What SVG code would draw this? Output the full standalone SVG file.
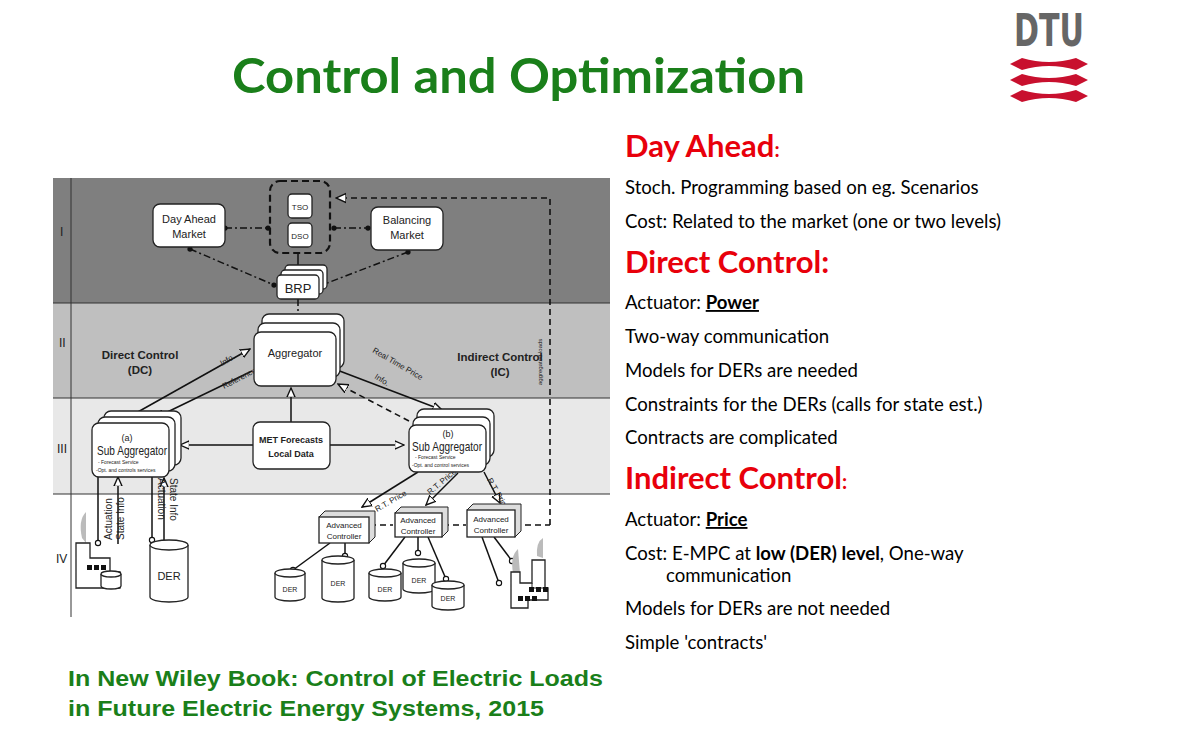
<svg xmlns="http://www.w3.org/2000/svg" width="1200" height="737" viewBox="0 0 1200 737">
<style>
.d{font-family:"Liberation Sans",Arial,sans-serif;fill:#222}
.b{fill:#fff;stroke:#222;stroke-width:1.3}
.ln{stroke:#111;stroke-width:1.5;fill:none}
.dd{stroke:#111;stroke-width:1.5;fill:none;stroke-dasharray:7 3 2 3}
.da{stroke:#111;stroke-width:1.6;fill:none;stroke-dasharray:6 4}
.r{font-family:Lato,"Open Sans",sans-serif;fill:#000;font-size:18.6px}
.h{font-family:Lato,"Open Sans",sans-serif;fill:#e8000b;font-weight:bold;font-size:31px}
</style>
<defs>
<marker id="a" viewBox="0 0 10 10" refX="9" refY="5" markerWidth="7" markerHeight="7" orient="auto"><path d="M0,1 L9,5 L0,9 Z" fill="#fff" stroke="#111" stroke-width="1.3"/></marker>
<marker id="o" viewBox="0 0 10 10" refX="5" refY="5" markerWidth="5" markerHeight="5"><circle cx="5" cy="5" r="3.5" fill="#111"/></marker>
<marker id="c" viewBox="0 0 10 10" refX="5" refY="5" markerWidth="5" markerHeight="5"><circle cx="5" cy="5" r="3.5" fill="#fff" stroke="#111" stroke-width="1.5"/></marker>
</defs>
<rect width="1200" height="737" fill="#fff"/>
<text x="232" y="93" font-family="Lato,'Open Sans',sans-serif" font-weight="bold" font-size="47" fill="#1a7f1a" textLength="573" lengthAdjust="spacingAndGlyphs">Control and Optimization</text>
<g id="logo">
<text x="1049" y="46" text-anchor="middle" font-family="'Liberation Sans Narrow','DejaVu Sans Condensed',sans-serif" font-weight="bold" font-size="44" fill="#666" textLength="70" lengthAdjust="spacingAndGlyphs">DTU</text>
<path d="M1010,64 L1022,58 Q1049,66 1076,58 L1088,64 L1076,70 Q1049,62 1022,70 Z" fill="#c8102e"/>
<path d="M1010,80 L1022,74 Q1049,82 1076,74 L1088,80 L1076,86 Q1049,78 1022,86 Z" fill="#c8102e"/>
<path d="M1010,96 L1022,90 Q1049,98 1076,90 L1088,96 L1076,102 Q1049,94 1022,102 Z" fill="#c8102e"/>
</g>
<g id="bands">
<rect x="53" y="178" width="557" height="125" fill="#7f7f7f"/>
<rect x="53" y="303" width="557" height="95" fill="#bfbfbf"/>
<rect x="53" y="398" width="557" height="96" fill="#e8e8e8"/>
<path d="M53,303 H610 M53,398 H610 M53,494 H610" stroke="#333" stroke-width="1"/>
<path d="M71,178 V617" stroke="#333" stroke-width="1"/>
<g class="d" font-size="12" fill="#222"><text x="60" y="236">I</text><text x="59" y="347">II</text><text x="57" y="453">III</text><text x="56" y="563">IV</text></g>
<text class="d" x="140" y="359" font-size="11.5" font-weight="bold" text-anchor="middle">Direct Control</text>
<text class="d" x="140" y="374" font-size="11.5" font-weight="bold" text-anchor="middle">(DC)</text>
<text class="d" x="500" y="361" font-size="11.5" font-weight="bold" text-anchor="middle">Indirect Control</text>
<text class="d" x="500" y="376" font-size="11.5" font-weight="bold" text-anchor="middle">(IC)</text>
</g>
<g id="connectors">
<path class="dd" d="M225,228 L268,228" marker-start="url(#o)" marker-end="url(#o)"/>
<path class="dd" d="M334,228 L368,228" marker-start="url(#o)" marker-end="url(#o)"/>
<path class="dd" d="M190,249 L274,285" marker-start="url(#o)" marker-end="url(#o)"/>
<path class="dd" d="M408,252 L322,285" marker-start="url(#o)" marker-end="url(#o)"/>
<path class="ln" d="M298,253 V275"/>
<path class="dd" d="M298,299 V321" marker-end="url(#o)"/>
<path class="da" d="M550,525 V198 H336" marker-end="url(#a)"/>
<text class="d" font-size="6" fill="#333" transform="translate(542,385) rotate(-90)">aggregated loads</text>
<path class="ln" d="M136,413 L250,349" marker-end="url(#a)"/>
<path class="ln" d="M252,371 L155,418" marker-end="url(#a)"/>
<path class="ln" d="M291,422 V388" marker-end="url(#a)"/>
<path class="ln" d="M337,370 L442,410" marker-end="url(#a)"/>
<path class="da" d="M409,421 L338,384" marker-end="url(#a)"/>
<text class="d" font-size="8" transform="translate(222,366) rotate(-30)">Info.</text>
<text class="d" font-size="8" transform="translate(224,389) rotate(-27)">Reference</text>
<text class="d" font-size="8" transform="translate(372,352) rotate(30)">Real Time Price</text>
<text class="d" font-size="8" transform="translate(374,378) rotate(32)">Info.</text>
<path class="ln" d="M253,445 H180" marker-end="url(#a)"/>
<path class="ln" d="M330,445 H404" marker-end="url(#a)"/>
<path class="ln" d="M98,477 V543" marker-end="url(#c)"/>
<path class="ln" d="M118,544 V477" marker-end="url(#a)"/>
<path class="ln" d="M152,477 V540" marker-end="url(#c)"/>
<path class="ln" d="M164,541 V478" marker-end="url(#a)"/>
<text class="d" font-size="10" transform="translate(112,540) rotate(-90)">Actuation</text>
<text class="d" font-size="10" transform="translate(124,540) rotate(-90)">State Info</text>
<text class="d" font-size="10" transform="translate(158,478) rotate(90)">Actuation</text>
<text class="d" font-size="10" transform="translate(170,478) rotate(90)">State Info</text>
<path class="ln" d="M418,472 L362,507" marker-end="url(#a)"/>
<path class="ln" d="M458,473 L426,505" marker-end="url(#a)"/>
<path class="ln" d="M484,472 L500,503" marker-end="url(#a)"/>
<text class="d" font-size="8" transform="translate(377,512) rotate(-30)">R.T. Price</text>
<text class="d" font-size="8" transform="translate(430,495) rotate(-40)">R.T. Price</text>
<text class="d" font-size="8" transform="translate(487,480) rotate(60)">R.T. Price</text>
<path class="da" d="M370,525 H393 M443,525 H466 M515,525 H550"/>
<path class="ln" d="M330,543 L293,570" marker-end="url(#c)"/>
<path class="ln" d="M345,543 V556" marker-end="url(#c)"/>
<path class="ln" d="M405,537 L383,566" marker-end="url(#c)"/>
<path class="ln" d="M418,537 L418,553" marker-end="url(#c)"/>
<path class="ln" d="M428,537 L446,579" marker-end="url(#c)"/>
<path class="ln" d="M482,537 L499,583" marker-end="url(#c)"/>
<path class="ln" d="M494,537 L512,561" marker-end="url(#c)"/>
</g>
<g id="dayahead"><rect class="b" x="153" y="204" width="72" height="43" rx="7"/><text class="d" x="189" y="223" font-size="11" text-anchor="middle">Day Ahead</text><text class="d" x="189" y="238" font-size="11" text-anchor="middle">Market</text></g>
<g id="tsodso"><rect x="270" y="181" width="60" height="72" rx="10" fill="none" stroke="#111" stroke-width="2.2" stroke-dasharray="7 4"/>
<rect class="b" x="288" y="194" width="24" height="24" rx="4"/><text class="d" x="300" y="210" font-size="8" text-anchor="middle">TSO</text>
<rect class="b" x="288" y="223" width="24" height="24" rx="4"/><text class="d" x="300" y="239" font-size="8" text-anchor="middle">DSO</text></g>
<g id="balancing"><rect class="b" x="371" y="207" width="72" height="43" rx="7"/><text class="d" x="407" y="224" font-size="11" text-anchor="middle">Balancing</text><text class="d" x="407" y="239" font-size="11" text-anchor="middle">Market</text></g>
<g id="brp"><rect class="b" x="285" y="265" width="42" height="24" rx="4"/><rect class="b" x="281" y="270" width="42" height="24" rx="4"/><rect class="b" x="277" y="275" width="42" height="24" rx="4"/><text class="d" x="298" y="293" font-size="13" text-anchor="middle">BRP</text></g>
<g id="aggregator"><rect class="b" x="262" y="314" width="82" height="54" rx="7"/><rect class="b" x="258" y="323" width="82" height="54" rx="7"/><rect class="b" x="254" y="332" width="82" height="54" rx="7"/><text class="d" x="295" y="357" font-size="11" text-anchor="middle">Aggregator</text></g>
<g id="subA"><rect class="b" x="104" y="411" width="77" height="54" rx="7"/><rect class="b" x="98" y="417" width="77" height="54" rx="7"/><rect class="b" x="92" y="423" width="77" height="54" rx="7"/>
<text class="d" x="127" y="441" font-size="9" text-anchor="middle">(a)</text><text class="d" x="97" y="455" font-size="13" textLength="70" lengthAdjust="spacingAndGlyphs">Sub Aggregator</text><text class="d" x="98" y="464" font-size="5">- Forecast Service</text><text class="d" x="96" y="472" font-size="5">-Opt. and controls services</text></g>
<g id="met"><rect class="b" x="253" y="422" width="77" height="47" rx="7"/><text class="d" x="291" y="443" font-size="9" font-weight="bold" text-anchor="middle">MET Forecasts</text><text class="d" x="291" y="457" font-size="9" font-weight="bold" text-anchor="middle">Local Data</text></g>
<g id="subB"><rect class="b" x="417" y="409" width="77" height="48" rx="7"/><rect class="b" x="413" y="417" width="77" height="48" rx="7"/><rect class="b" x="409" y="425" width="77" height="47" rx="7"/>
<text class="d" x="448" y="437" font-size="9" text-anchor="middle">(b)</text><text class="d" x="412" y="451" font-size="13" textLength="70" lengthAdjust="spacingAndGlyphs">Sub Aggregator</text><text class="d" x="415" y="459" font-size="5">- Forecast Service</text><text class="d" x="412" y="467" font-size="5">-Opt. and control services</text></g>
<g id="ac1"><path d="M319,517 L325,511 H375 V537 L369,543 Z" fill="#ddd" stroke="#222"/><rect class="b" x="319" y="517" width="50" height="26"/><text class="d" x="344" y="528" font-size="8" text-anchor="middle">Advanced</text><text class="d" x="344" y="539" font-size="8" text-anchor="middle">Controller</text></g>
<g id="ac2"><path d="M395,513 L401,507 H448 V531 L442,537 Z" fill="#ddd" stroke="#222"/><rect class="b" x="395" y="513" width="47" height="24"/><text class="d" x="418" y="523" font-size="8" text-anchor="middle">Advanced</text><text class="d" x="418" y="534" font-size="8" text-anchor="middle">Controller</text></g>
<g id="ac3"><path d="M467,510 L473,504 H521 V531 L515,537 Z" fill="#ddd" stroke="#222"/><rect class="b" x="467" y="510" width="48" height="27"/><text class="d" x="491" y="522" font-size="8" text-anchor="middle">Advanced</text><text class="d" x="491" y="533" font-size="8" text-anchor="middle">Controller</text></g>
<g id="ders">
<g><path class="b" d="M150,545 V597 A19,5 0 0 0 188,597 V545"/><ellipse class="b" cx="169" cy="545" rx="19" ry="5"/><text class="d" x="169" y="580" font-size="11" text-anchor="middle">DER</text></g>
<g><path class="b" d="M275,573 V597 A15,4 0 0 0 305,597 V573"/><ellipse class="b" cx="290" cy="573" rx="15" ry="4"/><text class="d" x="290" y="592" font-size="7" text-anchor="middle">DER</text></g>
<g><path class="b" d="M322,560 V598 A16,4 0 0 0 354,598 V560"/><ellipse class="b" cx="338" cy="560" rx="16" ry="4"/><text class="d" x="338" y="586" font-size="7" text-anchor="middle">DER</text></g>
<g><path class="b" d="M369,573 V597 A16,4 0 0 0 401,597 V573"/><ellipse class="b" cx="385" cy="573" rx="16" ry="4"/><text class="d" x="385" y="592" font-size="7" text-anchor="middle">DER</text></g>
<g><path class="b" d="M403,563 V589 A16,4 0 0 0 435,589 V563"/><ellipse class="b" cx="419" cy="563" rx="16" ry="4"/><text class="d" x="419" y="583" font-size="7" text-anchor="middle">DER</text></g>
<g><path class="b" d="M432,585 V606 A16,4 0 0 0 464,606 V585"/><ellipse class="b" cx="448" cy="585" rx="16" ry="4"/><text class="d" x="448" y="601" font-size="7" text-anchor="middle">DER</text></g>
</g>
<g id="factoryA">
<path d="M82,538 Q78,520 86,512 L86,543 Z" fill="#bbb"/>
<path d="M76,543 H90 V558 H110 V572 H120 V588 H76 Z" fill="#fff" stroke="#222" stroke-width="1.3"/>
<rect x="87" y="565" width="5" height="5" fill="#111"/><rect x="94" y="565" width="5" height="5" fill="#111"/><rect x="101" y="565" width="5" height="5" fill="#111"/>
<path class="b" d="M101,574 V586 A10,3 0 0 0 121,586 V574"/><ellipse class="b" cx="111" cy="574" rx="10" ry="3"/>
</g>
<g id="factoryB">
<path d="M513,573 Q510,556 518,549 L520,573 Z" fill="#bbb"/><path d="M537,556 Q536,542 543,538 L543,558 Z" fill="#bbb"/>
<path d="M511,608 V572 H520 V583 H532 V560 H545 V588 H548 V600 H528 V608 Z" fill="#fff" stroke="#222" stroke-width="1.3"/>
<path d="M532,583 V588 H548" fill="none" stroke="#222"/>
<rect x="518" y="596" width="5" height="5" fill="#111"/><rect x="525" y="596" width="5" height="5" fill="#111"/><rect x="532" y="596" width="5" height="5" fill="#111"/>
<rect x="529" y="587" width="5" height="5" fill="#111"/><rect x="536" y="587" width="5" height="5" fill="#111"/><rect x="543" y="587" width="5" height="5" fill="#111"/>
</g>
<g id="text">
<text x="625" y="157" class="h">Day Ahead<tspan font-size="20">:</tspan></text>
<text x="625" y="194" class="r">Stoch. Programming based on eg. Scenarios</text>
<text x="625" y="228" class="r">Cost: Related to the market (one or two levels)</text>
<text x="625" y="273" class="h">Direct Control:</text>
<text x="625" y="309" class="r">Actuator: <tspan font-weight="bold" text-decoration="underline">Power</tspan></text>
<text x="625" y="343" class="r">Two-way communication</text>
<text x="625" y="377" class="r">Models for DERs are needed</text>
<text x="625" y="411" class="r">Constraints for the DERs (calls for state est.)</text>
<text x="625" y="444" class="r">Contracts are complicated</text>
<text x="625" y="489" class="h">Indirect Control<tspan font-size="20">:</tspan></text>
<text x="625" y="526" class="r">Actuator: <tspan font-weight="bold" text-decoration="underline">Price</tspan></text>
<text x="625" y="560" class="r">Cost: E-MPC at <tspan font-weight="bold">low (DER) level</tspan>, One-way</text>
<text x="666" y="582" class="r">communication</text>
<text x="625" y="615" class="r">Models for DERs are not needed</text>
<text x="625" y="649" class="r">Simple 'contracts'</text>
<text x="68" y="686" font-family="'Liberation Sans',Arial,sans-serif" font-weight="bold" font-size="22" fill="#1a7f1a" textLength="535" lengthAdjust="spacingAndGlyphs">In New Wiley Book: Control of Electric Loads</text>
<text x="68" y="716" font-family="'Liberation Sans',Arial,sans-serif" font-weight="bold" font-size="22" fill="#1a7f1a" textLength="476" lengthAdjust="spacingAndGlyphs">in Future Electric Energy Systems, 2015</text>
</g>
</svg>
